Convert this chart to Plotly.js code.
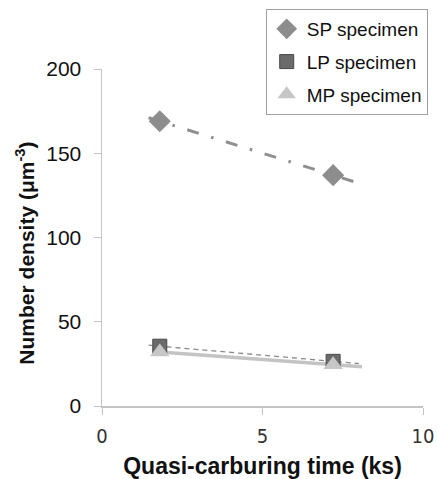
<!DOCTYPE html>
<html><head><meta charset="utf-8">
<script src="https://cdn.plot.ly/plotly-3.0.1.min.js"></script>
<style>html,body{margin:0;padding:0;background:#fff}#c{width:437px;height:479px}</style>
</head><body><div id="c"></div>
<script>
const seriesNames = ["SP specimen", "LP specimen", "MP specimen"];
const times = [1.8, 7.2];
const spValues = [169, 137];
const lpValues = [35.5, 26.5];
const mpValues = [32, 24.5];
const trendX = [1.45, 8.0];
const mpTrendX = [1.8, 8.1];
const xTicks = [0, 5, 10];
const yTicks = [0, 50, 100, 150, 200];

function trend(xs, ys, xr) {
  const m = (ys[1] - ys[0]) / (xs[1] - xs[0]);
  return xr.map(x => ys[0] + m * (x - xs[0]));
}

const traces = [
  {x: trendX, y: trend(times, spValues, trendX), mode: 'lines', showlegend: false, hoverinfo: 'skip',
   line: {color: '#8f8f8f', width: 3, dash: '12px,13px,2.5px,13px'}},
  {x: trendX, y: trend(times, lpValues, trendX), mode: 'lines', showlegend: false, hoverinfo: 'skip',
   line: {color: '#8a8a8a', width: 1.3, dash: '5px,4px'}},
  {x: mpTrendX, y: trend(times, mpValues, mpTrendX), mode: 'lines', showlegend: false, hoverinfo: 'skip',
   line: {color: '#c4c4c4', width: 3.5}},
  {x: times, y: spValues, name: seriesNames[0], mode: 'markers', legendgroup: 'a',
   marker: {symbol: 'diamond', size: 17, color: '#8d8d8d'}},
  {x: times, y: lpValues, name: seriesNames[1], mode: 'markers', legendgroup: 'b',
   marker: {symbol: 'square', size: 14, color: '#6b6b6b', line: {color: '#4a4a4a', width: 1}}},
  {x: times, y: mpValues, name: seriesNames[2], mode: 'markers', legendgroup: 'c',
   marker: {symbol: 'triangle-up', size: 17, color: '#c6c6c6'}}
];

const layout = {
  width: 437, height: 479,
  margin: {l: 102, r: 14, t: 69, b: 73, autoexpand: false},
  paper_bgcolor: '#fff', plot_bgcolor: '#fff',
  font: {family: 'Arial, Liberation Sans, sans-serif', color: '#222'},
  xaxis: {range: [0, 10], tickvals: xTicks, ticktext: xTicks.map(String), showgrid: false, zeroline: false,
    showline: true, linecolor: '#c4c4c4', linewidth: 1.5, ticks: 'outside', ticklen: 7, tickcolor: '#c4c4c4',
    ticklabelstandoff: 4, automargin: false,
    tickfont: {size: 20, color: '#333', family: 'Liberation Sans Narrow, DejaVu Sans Condensed, sans-serif'},
    title: {text: '<b>Quasi-carburing time (ks)</b>', font: {size: 23, color: '#111'}, standoff: 11}},
  yaxis: {range: [0, 200], tickvals: yTicks, showgrid: false, zeroline: false,
    showline: true, linecolor: '#c4c4c4', linewidth: 1.5, ticks: 'outside', ticklen: 7, tickcolor: '#c4c4c4',
    ticklabelstandoff: 8, automargin: false,
    tickfont: {size: 21, color: '#111'}},
  annotations: [{xref: 'paper', yref: 'paper', x: -0.24, y: 0.455, xanchor: 'center', yanchor: 'middle',
    textangle: -90, showarrow: false, text: '<b>Number density (μm<sup>-3</sup>)</b>',
    font: {size: 21, color: '#111'}}],
  legend: {x: 0.51, y: 1.178, xanchor: 'left', yanchor: 'top', bgcolor: '#fff',
    bordercolor: '#a0a0a0', borderwidth: 1, font: {size: 19, color: '#111'}, tracegroupgap: 5,
    itemwidth: 30},
  showlegend: true
};

Plotly.newPlot('c', traces, layout, {displayModeBar: false, staticPlot: true});
</script></body></html>
